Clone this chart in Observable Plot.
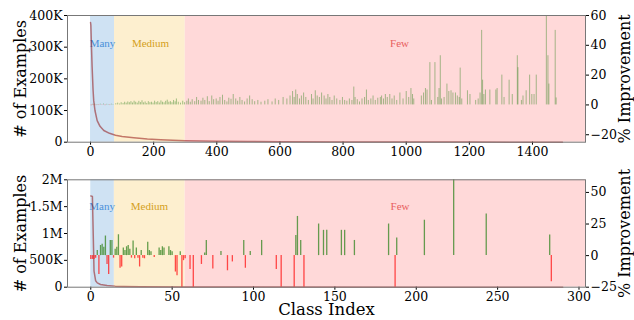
<!DOCTYPE html>
<html><head><meta charset="utf-8">
<script src="https://cdn.jsdelivr.net/npm/d3@7"></script>
<script src="https://cdn.jsdelivr.net/npm/@observablehq/plot@0.6"></script>
<style>
body{margin:0;background:#fff;font-family:"DejaVu Serif",serif;}
#root{position:relative;width:634px;height:320px;}
.panel{position:absolute;left:0;width:634px;height:160px;}
.panel svg{position:absolute;left:0;top:0;overflow:visible;}
</style></head><body><div id="root"></div>
<script>
// ---------- data ----------
const regionNames = ["Many", "Medium", "Few"];
const regionFill = ["#cfe2f3", "#fdefcf", "#ffd9d9"];
const regionText = ["#4a90d9", "#d4a020", "#e86060"];

// top panel (all classes)
const topRegionStart = [0, 76, 300];
const topRegionEnd = [76, 300, 1568];
const topLabelX = [38, 190, 979];
const topLabelY = 312000;
const topXTicks = [0, 200, 400, 600, 800, 1000, 1200, 1400];
const topYTicks = [0, 100000, 200000, 300000, 400000];
const topRTicks = [-20, 0, 20, 40, 60];
const topCountIdx = [0, 1, 3, 5, 8, 10, 14, 21, 30, 42, 60, 79, 100, 137, 180, 222, 260, 300, 400, 500, 600, 800, 1000, 1200, 1495];
const topCountVal = [378000, 370000, 300000, 237000, 165000, 132000, 100000, 68000, 50000, 37000, 28000, 22000, 18000, 14000, 10000, 7500, 5800, 4400, 3000, 2000, 1500, 900, 600, 300, 100];
const topBarIdx = [
  2,6,9,13,17,21,26,31,36,41,46,51,56,61,66,71,
  80,86,92,97,103, 108,113,118,123,128, 133,138,143,148,153, 158,163,168,173,178, 183,188,193,198,203, 208,213,218,223,228, 233,238,243,248,253, 258,263,268,272,278, 285,292,298,
  305,310,316,322,330, 336,342,350,356,362, 370,376,384,390,398, 404,410,418,425,432, 438,445,452,460,466, 473,480,488,496,504, 512,520,530,540,552, 562,575,585,596,610, 622,632,640,645,650, 655,662,668,675,682, 690,700,705,712,718, 725,732,740,746,752, 758,765,772,780,790, 798,805,812,820,828, 834,838,845,852,860, 868,874,880,888,895, 902,910,918,922,928, 934,940,948,955,962, 970,980,990,1000,1008, 1015,1020,1024,
  1048,1055,1061,1066,1075, 1080,1091,1100,1104,1108, 1112,1120,1129,1135,1142, 1148,1156,1162,1168,1171, 1176,1194,1202,1220,1228, 1234,1239,1242,1246,1251, 1265,1284,1288,1303,1310, 1326,1336,1352,1354,1365, 1370,1380,1391,1398,1405, 1412,1444,1449,1452,1472, 1475];
const topBarVal = [
  -0.6,0.4,-0.4,0.5,-0.5,0.3,-0.4,0.5,-0.3,0.6,-0.5,0.4,0.3,-0.4,0.5,0.3,
  0.8,1.2,0.6,1.5,1, 1.8,1.2,2,1.5,2.2, 1.3,2.5,1.8,1.2,2.4, 1.6,2.8,1.4,2,1, 2.2,1.5,1.8,1.2,2.5, 1.6,2.2,1.3,2.7,1.8, 1.4,2.4,3.2,1.8,2.2, 1.5,3,2.1,4,1.8, 1.2,2.5,1.5,
  2.5,4,1.8,3.5,2.2, 5,3,2.5,4.5,3, 5.5,2.2,6,3.5,4, 2.5,5,6.5,3,2, 4.5,3.8,7,4,2.5, 5,3,2,4,6, 3.5,2.2,3,1.8,2.5, 3.5,2,4,3,5, 4,6,9,5,10, 7,4,6,8,5, 3,7,4,9.5,6, 5,8,6,4,7, 5,3,6,4,3, 5,3,2.5,4,3, 12,5,3.5,2,4, 5,10,3,4,6, 3,4.5,5,6,4, 7,5,7,4,6, 3,8,4,9,5, 11,7,4,
  6,8,11,10,28.4, 3,28.4,5,11,33, 4,5,14,9,9.5, 8,8,6,5,24.7, 4,9.5,7,3,4, 8,50,16.6,7,10, 10,10,11,20,5, 16.6,7,33,25,3, 6,9.5,20,7,7, 20,60,33,14,50, 4.7];

// bottom panel (subset of classes)
const botRegionStart = [0, 14.5, 58];
const botRegionEnd = [14.5, 58, 304];
const botLabelX = [7, 36, 190];
const botLabelY = 1500000;
const botXTicks = [0, 50, 100, 150, 200, 250, 300];
const botYTicks = [0, 500000, 1000000, 1500000, 2000000];
const botRTicks = [-25, 0, 25, 50];
const botCountIdx = [0, 1, 2, 3, 4, 6, 8, 10, 15, 20, 30, 58, 100, 200, 290];
const botCountVal = [1700000, 1690000, 300000, 120000, 80000, 50000, 40000, 30000, 20000, 15000, 10000, 5000, 3000, 1000, 500];
const botBarIdx = [
  0,1,2,3,4, 5,6,7,8,9, 10,11,12,13,14, 15,16,17,18,19, 20,21,22,23,24, 25,26,27,28,29, 30,31,32,33,35,
  36,37,39,42,43, 44,45,48,49,50, 52,53,55,56,57, 58,61,63,68,70, 71,75,80,84,87, 94,95,98,105,114,
  117,125,126,127,129, 131,140,143,145,154, 156,162,183,187,188, 205,223,243,282,283];
const botBarVal = [
  -3,-3,-3,-2,4, -15,8,9,6.6,15.5, -7,-15,12,12,-2, 5,6.6,16.5,-10,-9, 6,4,7,8,5, -2,11.5,-2.5,6,-2, -9,4,-2,-2.5,10.6,
  4,3,-1.5,6,4, 7,6,7,4,3, -13,-16,3,-25,-4, -2.5,-11,-25,-7,2, 12,-10.6,3.2,-12,-5, 12,-10,3.2,12,-11,
  -25,-25,16,31,12, -25,25,20,20,20, 20,12,25,-25,14, 28,60,33,16.4,-20.6];

// ---------- drawing ----------
const GREEN = "#3f8a2a", RED = "#ff2020";
const fmtCount = d => d === 0 ? "0" : d >= 1e6 ? (d / 1e6) + "M" : (d / 1e3) + "K";
const fmtPct = d => d < 0 ? "\u2212" + Math.abs(d) : String(d);
const fmtIdx = d => String(d);

function panel(cfg) {
  const regions = regionNames.map((n, k) => ({name: n, start: cfg.rs[k], end: cfg.re[k], fill: regionFill[k], tc: regionText[k], lx: cfg.lx[k], ly: cfg.ly}));
  const counts = cfg.ci.map((i, k) => ({i, c: cfg.cv[k]}));
  const bars = cfg.bi.map((i, k) => ({i, v: cfg.bv[k], col: cfg.bv[k] >= 0 ? GREEN : RED}));
  const common = {
    width: 634, height: 160, marginLeft: 67, marginRight: 49, marginTop: cfg.mt, marginBottom: cfg.mb,
    style: {fontFamily: "DejaVu Serif", fontSize: "12px", background: "transparent", color: "#000", overflow: "visible"}
  };
  const marksL = [
    Plot.rect(regions, {x1: "start", x2: "end", y1: cfg.yd[0], y2: cfg.yd[1], fill: "fill"}),
    Plot.text(regions, {x: "lx", y: "ly", text: "name", fill: "tc", fontSize: 11, fontFamily: "Liberation Serif"}),
    Plot.line(counts, {x: "i", y: "c", stroke: "#8b0000", strokeOpacity: 0.5, strokeWidth: 1.5}),
    Plot.axisX({ticks: cfg.xt, tickFormat: fmtIdx, tickSize: 3, tickPadding: 2, label: null, fontSize: 12.5}),
    Plot.axisY({ticks: cfg.yt, tickFormat: fmtCount, tickSize: 3, tickPadding: 2, label: null, fontSize: 12.5}),
    Plot.text(["# of Examples"], {frameAnchor: "left", textAnchor: "middle", dx: -47, rotate: -90, fontSize: 16})
  ];
  if (cfg.xlabel) marksL.push(Plot.text([cfg.xlabel], {frameAnchor: "bottom", dy: 16.5, lineAnchor: "top", fontSize: 16.5}));
  const left = Plot.plot({...common, x: {domain: cfg.xd}, y: {domain: cfg.yd}, marks: marksL});
  const right = Plot.plot({...common, x: {domain: cfg.xd, axis: null}, y: {domain: cfg.rd, axis: null}, marks: [
    Plot.ruleX(bars, {x: "i", y1: 0, y2: "v", stroke: "col", strokeWidth: cfg.bw, strokeOpacity: cfg.bo}),
    Plot.axisY({anchor: "right", ticks: cfg.rt, tickFormat: fmtPct, tickSize: 3, tickPadding: 2, label: null, fontSize: 12.5}),
    Plot.frame({stroke: "#777"}),
    Plot.text(["% Improvement"], {frameAnchor: "right", textAnchor: "middle", dx: 39, rotate: -90, fontSize: 16})
  ]});
  const div = document.createElement("div");
  div.className = "panel";
  div.style.top = cfg.top + "px";
  div.appendChild(left);
  div.appendChild(right);
  document.getElementById("root").appendChild(div);
}

panel({top: 0, mt: 15, mb: 18.3, xd: [-73, 1568], xt: topXTicks, yd: [0, 400000], yt: topYTicks, rd: [-25, 60], rt: topRTicks,
  rs: topRegionStart, re: topRegionEnd, lx: topLabelX, ly: topLabelY, ci: topCountIdx, cv: topCountVal, bi: topBarIdx, bv: topBarVal, bw: 0.8, bo: 0.6});
panel({top: 160, mt: 19.3, mb: 33.3, xd: [-14.3, 304], xt: botXTicks, yd: [0, 2000000], yt: botYTicks, rd: [-25, 60], rt: botRTicks,
  rs: botRegionStart, re: botRegionEnd, lx: botLabelX, ly: botLabelY, ci: botCountIdx, cv: botCountVal, bi: botBarIdx, bv: botBarVal, bw: 1.3, bo: 0.8, xlabel: "Class Index"});
</script></body></html>
